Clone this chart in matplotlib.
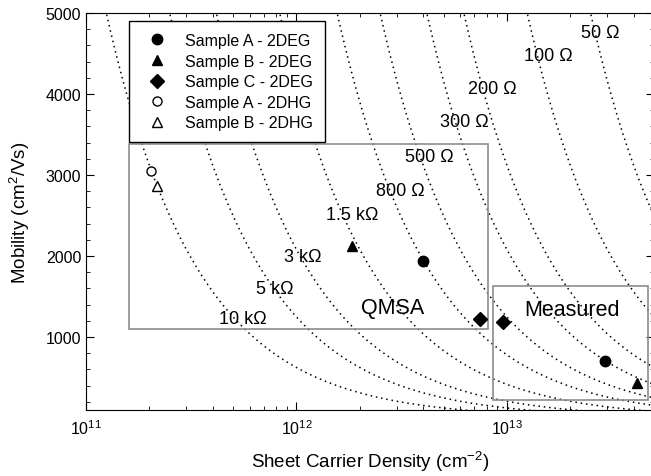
import numpy as np
import matplotlib
matplotlib.use("Agg")
import matplotlib.pyplot as plt
from matplotlib.patches import Rectangle
from matplotlib.ticker import MultipleLocator

plt.rcParams['font.family'] = ['Liberation Sans', 'DejaVu Sans']
plt.rcParams['mathtext.fontset'] = 'custom'
plt.rcParams['mathtext.rm'] = 'Liberation Sans'

Q = 1.602e-19

# sheet resistance contours (ohm) and where their labels sit
sheet_r = [10000, 5000, 3000, 1500, 800, 500, 300, 200, 100, 50]
r_labels = ['10 k\u03a9', '5 k\u03a9', '3 k\u03a9', '1.5 k\u03a9', '800 \u03a9',
            '500 \u03a9', '300 \u03a9', '200 \u03a9', '100 \u03a9', '50 \u03a9']
label_n = [5.57e11, 7.9e11, 1.07e12, 1.85e12, 3.1e12, 4.3e12, 6.3e12, 8.57e12, 1.57e13, 2.77e13]
label_mu = [1235, 1605, 2000, 2518, 2815, 3235, 3667, 4074, 4470, 4765]

# samples
a_2deg_n = [3.99e12, 2.92e13]
a_2deg_mu = [1938, 704]
b_2deg_n = [1.84e12, 4.15e13]
b_2deg_mu = [2123, 432]
c_2deg_n = [7.45e12, 9.57e12]
c_2deg_mu = [1222, 1185]
a_2dhg_n = [2.04e11]
a_2dhg_mu = [3049]
b_2dhg_n = [2.17e11]
b_2dhg_mu = [2864]

# boxes: (n_min, n_max, mu_min, mu_max)
qmsa_box = (1.6e11, 8.1e12, 1100, 3383)
meas_box = (8.57e12, 4.7e13, 222, 1630)

fig = plt.figure(figsize=(6.51, 4.77), dpi=100)
ax = fig.add_axes([86 / 651, 1 - 411 / 477, 568 / 651, 397 / 477])

n = np.logspace(11, np.log10(6e13), 400)
for r in sheet_r:
    ax.plot(n, 1 / (Q * n * r), color='black', linestyle=(0, (1, 2.5)), linewidth=1.1, zorder=1)
for txt, x, y in zip(r_labels, label_n, label_mu):
    ax.text(x, y, txt, fontsize=13, ha='center', va='center', zorder=2)

for b in (qmsa_box, meas_box):
    ax.add_patch(Rectangle((b[0], b[2]), b[1] - b[0], b[3] - b[2], fill=False,
                           edgecolor='#8c8c8c', linewidth=1.2, zorder=2))
ax.text(2.85e12, 1370, 'QMSA', fontsize=15.5, ha='center', va='center')
ax.text(2.04e13, 1345, 'Measured', fontsize=15.5, ha='center', va='center')

ms = 7.5
ax.plot(a_2deg_n, a_2deg_mu, 'o', color='black', ms=ms, ls='none', label='Sample A - 2DEG', zorder=3)
ax.plot(b_2deg_n, b_2deg_mu, '^', color='black', ms=ms, ls='none', label='Sample B - 2DEG', zorder=3)
ax.plot(c_2deg_n, c_2deg_mu, 'D', color='black', ms=7, ls='none', label='Sample C - 2DEG', zorder=3)
ax.plot(a_2dhg_n, a_2dhg_mu, 'o', mfc='white', mec='black', ms=6.5, ls='none', label='Sample A - 2DHG', zorder=3)
ax.plot(b_2dhg_n, b_2dhg_mu, '^', mfc='white', mec='black', ms=6.5, ls='none', label='Sample B - 2DHG', zorder=3)

ax.set_xscale('log')
ax.set_xlim(1e11, 5e13)
ax.set_ylim(100, 5000)
ax.yaxis.set_major_locator(MultipleLocator(1000))
ax.yaxis.set_minor_locator(MultipleLocator(200))
ax.tick_params(which='both', direction='in', top=True, right=True, labelsize=11.5)
ax.tick_params(which='major', length=6)
ax.tick_params(which='minor', length=3)
ax.tick_params(axis='x', pad=6)

ax.set_xlabel('Sheet Carrier Density (cm$^{-2}$)', fontsize=13.5)
ax.xaxis.set_label_coords(0.5, -0.095)
ax.set_ylabel('Mobility (cm$^{2}$/Vs)', fontsize=13.5, labelpad=10)

leg = ax.legend(loc='upper left', bbox_to_anchor=(0.0757, 0.98), borderaxespad=0,
                fancybox=False, edgecolor='black', framealpha=1, fontsize=11.5,
                handletextpad=0.75, labelspacing=0.35, borderpad=0.75)
leg.get_frame().set_linewidth(1.0)
leg.set_zorder(5)

fig.savefig('out.png', dpi=100)
